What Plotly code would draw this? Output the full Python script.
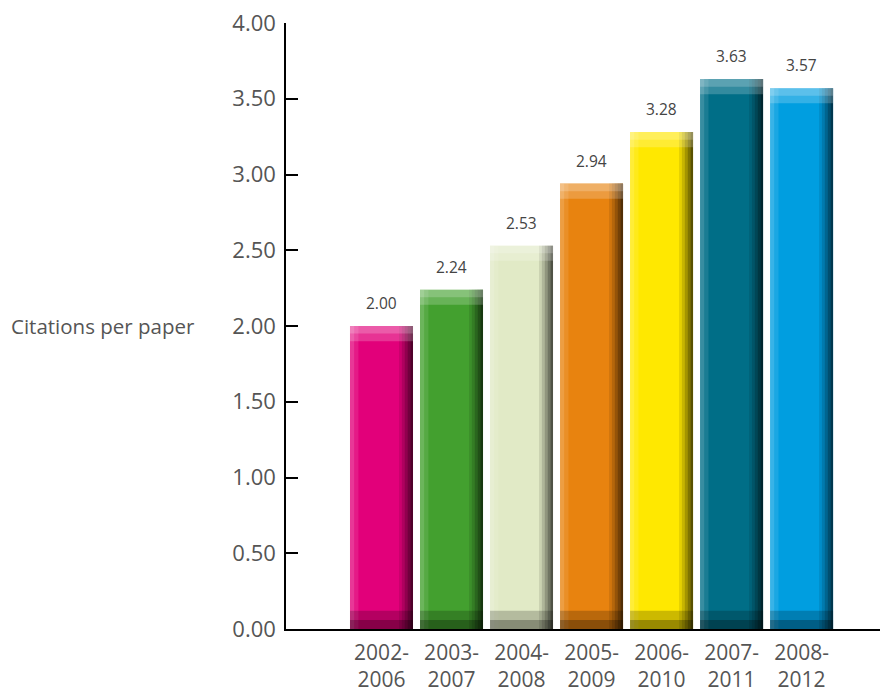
import plotly.graph_objects as go

periods = ["2002-2006", "2003-2007", "2004-2008", "2005-2009", "2006-2010", "2007-2011", "2008-2012"]
citations = [2.00, 2.24, 2.53, 2.94, 3.28, 3.63, 3.57]
value_labels = ["2.00", "2.24", "2.53", "2.94", "3.28", "3.63", "3.57"]
bar_colors = ["#E2007A", "#43A02F", "#E1EAC6", "#E8830F", "#FFE800", "#006E87", "#009EE0"]
y_ticks = [0, 0.5, 1.0, 1.5, 2.0, 2.5, 3.0, 3.5, 4.0]

xs = list(range(len(periods)))
tick_text = [p.replace("-", "-<br>") for p in periods]
FONT = "Open Sans, Noto Sans, sans-serif"

fig = go.Figure()
# main bars
fig.add_trace(go.Bar(x=xs, y=citations, width=0.9, marker=dict(color=bar_colors, line_width=0),
                     hoverinfo="skip", showlegend=False))
# left light strips
fig.add_trace(go.Bar(x=xs, y=citations, width=0.06, offset=-0.45,
                     marker=dict(color="rgba(255,255,255,0.22)", line_width=0), hoverinfo="skip", showlegend=False))
fig.add_trace(go.Bar(x=xs, y=citations, width=0.06, offset=-0.39,
                     marker=dict(color="rgba(255,255,255,0.1)", line_width=0), hoverinfo="skip", showlegend=False))
# right shading strips (gradient)
for i, op in enumerate([0.1, 0.22, 0.36, 0.5, 0.65]):
    fig.add_trace(go.Bar(x=xs, y=citations, width=0.04, offset=0.25 + 0.04 * i,
                         marker=dict(color=f"rgba(0,0,0,{op})", line_width=0), hoverinfo="skip", showlegend=False))
# top highlight (two steps)
fig.add_trace(go.Bar(x=xs, y=[0.1] * len(xs), base=[c - 0.1 for c in citations], width=0.9,
                     marker=dict(color="rgba(255,255,255,0.2)", line_width=0), hoverinfo="skip", showlegend=False))
fig.add_trace(go.Bar(x=xs, y=[0.05] * len(xs), base=[c - 0.05 for c in citations], width=0.9,
                     marker=dict(color="rgba(255,255,255,0.2)", line_width=0), hoverinfo="skip", showlegend=False))
# bottom shadow (two steps)
fig.add_trace(go.Bar(x=xs, y=[0.12] * len(xs), width=0.9,
                     marker=dict(color="rgba(0,0,0,0.2)", line_width=0), hoverinfo="skip", showlegend=False))
fig.add_trace(go.Bar(x=xs, y=[0.06] * len(xs), width=0.9,
                     marker=dict(color="rgba(0,0,0,0.25)", line_width=0), hoverinfo="skip", showlegend=False))

for x, c, t in zip(xs, citations, value_labels):
    fig.add_annotation(x=x, y=c, text=t, showarrow=False, yanchor="bottom", yshift=10,
                       font=dict(family=FONT, size=15.5, color="#444"))

fig.add_annotation(xref="paper", yref="paper", x=-0.466, y=0.5, text="Citations per paper",
                   showarrow=False, xanchor="left", yanchor="middle",
                   font=dict(family=FONT, size=20.5, color="#555"))

fig.update_layout(
    barmode="overlay",
    width=892, height=692,
    margin=dict(l=278, r=20, t=15, b=71),
    paper_bgcolor="white", plot_bgcolor="white",
    font=dict(family=FONT, color="#555"),
    xaxis=dict(range=[-1.364, 7.12], tickvals=xs, ticktext=tick_text, showgrid=False, zeroline=False,
               showline=True, linecolor="black", linewidth=1.5, ticks="", automargin=False,
               tickfont=dict(size=21, color="#555"), ticklabelstandoff=4, ticklabeloverflow="allow"),
    yaxis=dict(range=[0, 4], tickvals=y_ticks, tickformat=".2f", showgrid=False, zeroline=False,
               showline=True, linecolor="black", linewidth=1.5, ticks="inside", ticklen=12,
               tickwidth=1.5, tickcolor="black", tickfont=dict(size=22, color="#555"),
               ticklabelstandoff=4, automargin=False, ticklabeloverflow="allow"),
)

fig.write_html("out.html")
